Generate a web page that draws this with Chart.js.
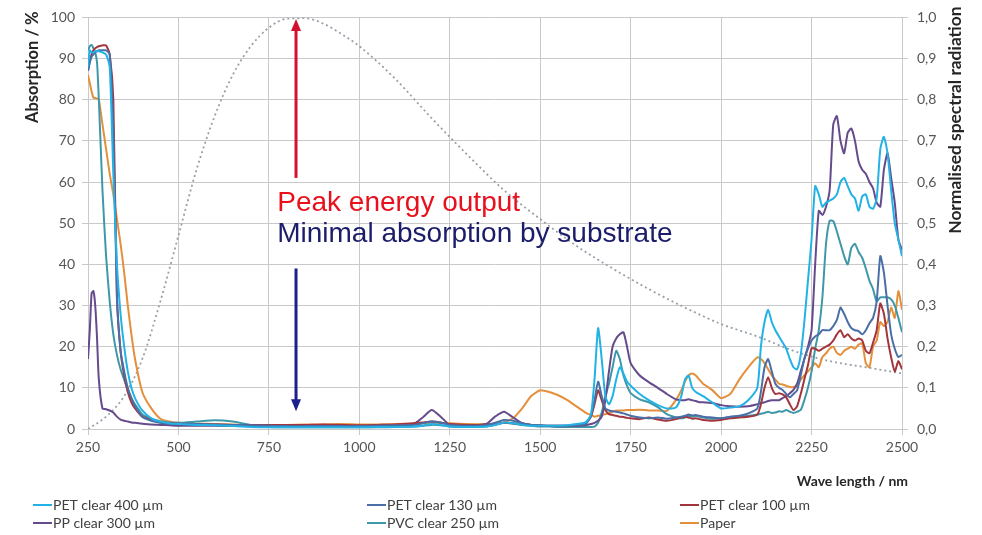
<!DOCTYPE html>
<html>
<head>
<meta charset="utf-8">
<script src="https://cdn.jsdelivr.net/npm/chart.js@4.4.0/dist/chart.umd.min.js"></script>
<style>
  html, body { margin: 0; padding: 0; background: #fff; }
  #wrap { width: 982px; height: 535px; position: relative; }
</style>
</head>
<body>
<div id="wrap"><canvas id="absChart"></canvas></div>
<script>
// shared wavelength grid (nm) for the six spectra, 10 per row
const wavelengths = [
  250, 255, 260, 265, 270, 275, 280, 290, 300, 310,
  320, 330, 340, 350, 360, 370, 380, 400, 425, 450,
  475, 500, 550, 600, 650, 700, 750, 800, 850, 900,
  950, 1000, 1050, 1100, 1150, 1175, 1200, 1225, 1250, 1300,
  1350, 1375, 1400, 1425, 1450, 1475, 1500, 1525, 1550, 1575,
  1600, 1625, 1640, 1650, 1660, 1670, 1680, 1690, 1700, 1710,
  1720, 1730, 1740, 1750, 1775, 1800, 1825, 1850, 1875, 1890,
  1900, 1910, 1920, 1930, 1940, 1950, 1975, 2000, 2025, 2050,
  2075, 2100, 2110, 2120, 2130, 2140, 2150, 2160, 2170, 2180,
  2190, 2200, 2210, 2220, 2230, 2240, 2250, 2260, 2270, 2280,
  2290, 2300, 2310, 2320, 2330, 2340, 2350, 2360, 2370, 2380,
  2390, 2400, 2410, 2420, 2430, 2440, 2450, 2460, 2470, 2480,
  2490, 2500
];

// absorption in %
const pet400 = [
  88, 92, 91.5, 91.5, 91.8, 91.8, 91.8, 91.5, 91, 88,
  62, 40, 28, 20, 14, 10, 7.5, 4.5, 2.6, 1.8,
  1.4, 1.2, 1.0, 0.9, 0.7, 0.5, 0.4, 0.4, 0.4, 0.4,
  0.4, 0.4, 0.5, 0.5, 0.6, 0.8, 1.2, 1.0, 0.6, 0.5,
  0.6, 1.0, 1.6, 1.4, 1.0, 0.8, 0.8, 0.8, 0.8, 0.9,
  1.2, 1.6, 3.5, 12, 24.5, 17, 8, 6, 8, 12,
  15, 13.5, 11.5, 10.5, 8.5, 7, 5.8, 5, 5.2, 8,
  12, 13, 10, 9, 8.5, 8, 6.5, 5, 5.2, 5.5,
  7, 10, 20, 26, 29, 26, 24, 22.5, 21, 19.5,
  17, 15, 14.5, 18, 26, 36, 46, 59, 57, 54,
  55, 55.5, 56, 57, 60, 61, 59, 57, 56, 53,
  56.5, 57, 54, 53.5, 56, 68, 71, 67, 58, 50,
  46, 42
];
const pet130 = [
  87, 89, 90.5, 91, 91.5, 91.8, 92, 92, 92, 91,
  72, 32, 19, 14, 10, 7.5, 5.5, 3, 2, 1.5,
  1.3, 1.2, 1.2, 1.1, 1.0, 0.9, 0.8, 0.7, 0.7, 0.7,
  0.7, 0.7, 0.8, 0.9, 1.0, 1.4, 1.8, 1.6, 1.0, 0.8,
  0.9, 1.5, 2.2, 2.0, 1.4, 1.0, 0.9, 0.8, 0.8, 0.8,
  0.9, 1.2, 3, 7, 11.5, 8, 5, 4.5, 4.3, 4.2,
  4, 3.8, 3.5, 3.2, 2.8, 2.6, 2.8, 2.5, 2.8, 3,
  3.2, 3.5, 3.3, 3.4, 3.2, 3.0, 2.8, 2.6, 3.0, 3.2,
  3.8, 5, 9, 15, 17, 14, 11, 10, 9.5, 8.5,
  7.7, 8.5, 9.4, 13, 17, 19.5, 21.5, 22.5, 23, 24,
  24, 24, 25, 26.5, 29.5, 28, 26, 24.5, 24, 23.8,
  23, 24, 25.7, 27, 31, 42, 38, 30, 23, 19.5,
  17.5, 18
];
const pet100 = [
  87, 89.5, 91, 92, 92.5, 92.8, 93, 93.2, 93.2, 91,
  80, 32, 19, 13, 9, 6.5, 5, 3, 2.2, 1.6,
  1.4, 1.3, 1.2, 1.1, 1.0, 1.0, 1.0, 1.0, 1.0, 1.1,
  1.0, 0.9, 1.0, 1.1, 1.4, 1.6, 1.8, 1.5, 1.2, 1.0,
  1.0, 1.2, 1.5, 1.4, 1.1, 1.0, 0.9, 0.8, 0.8, 0.8,
  1.0, 1.5, 3, 6, 9.4, 7, 4.6, 3.6, 3.4, 3.2,
  3, 2.9, 2.7, 2.6, 2.4, 2.8, 2.3, 2.0, 2.4, 2.8,
  3, 2.8, 2.5, 2.6, 2.4, 2.2, 2.0, 2.2, 2.6, 2.8,
  3, 3.5, 6, 10, 12.6, 10, 8.5, 8.7, 8.4, 7.7,
  6, 4.6, 5.5, 8.5, 12, 15.5, 19.6, 19.5, 19, 19.5,
  20, 20.5, 21.5, 23, 24, 22.3, 23, 22, 21.5, 22,
  21.5, 19, 18.4, 21, 24, 30.5, 28, 22, 17.4, 14,
  16.5, 14.5
];
const pp300 = [
  17, 24, 33, 33.5, 30, 22, 12, 5, 4.8, 4.5,
  4, 3, 2.3, 2.0, 1.8, 1.6, 1.5, 1.3, 1.1, 1.0,
  0.9, 0.8, 0.8, 0.8, 0.7, 0.7, 0.6, 0.6, 0.6, 0.6,
  0.6, 0.6, 0.7, 0.8, 1.2, 2.8, 4.6, 3, 1.0, 0.8,
  1.2, 3, 4.2, 2.8, 1.4, 1.0, 0.8, 0.7, 0.7, 0.7,
  0.8, 0.9, 1.2, 1.5, 2.0, 3, 7, 14, 20, 22,
  23, 23.5, 20, 16, 13, 11.4, 10, 8.5, 7.2, 7,
  7, 7.2, 7, 6.8, 6.5, 6.5, 6.3, 5.8, 5.5, 5.4,
  5.5, 6, 6.3, 6.5, 6.8, 7, 7, 7, 7.5, 8,
  8.7, 9.5, 11, 14, 17, 20, 24, 40, 53, 52,
  54, 58, 74, 76, 70, 67, 72, 73, 70, 65,
  63, 62, 60, 58.5, 55, 54, 63, 67, 61, 55,
  46, 43.5
];
const pvc250 = [
  92, 93, 93.3, 92.5, 91.5, 89, 80, 58, 42, 31,
  23, 18, 14.5, 12, 9.5, 7.5, 6, 3.6, 2.5, 1.9,
  1.6, 1.5, 1.8, 2.1, 1.8, 1.0, 0.5, 0.4, 0.4, 0.4,
  0.4, 0.4, 0.4, 0.5, 0.6, 0.8, 1.0, 0.9, 0.6, 0.5,
  0.6, 1.0, 1.5, 1.3, 1.0, 0.8, 0.6, 0.6, 0.5, 0.5,
  0.5, 0.5, 0.5, 0.6, 1.5, 4, 8, 11, 15, 19,
  17, 13, 10.5, 8.7, 7.2, 6.5, 5.3, 3.6, 2.8, 2.6,
  2.8, 3.2, 3.0, 3.2, 3.0, 2.8, 2.5, 2.6, 2.8, 3.0,
  3.2, 3.5, 3.7, 3.9, 4.2, 3.9, 4.0, 4.3, 4.2, 4.6,
  4.2, 3.9, 4.2, 4.6, 7, 10, 14, 19.5, 24, 32,
  45, 50.6, 50.5, 48, 45, 42, 40, 44, 45, 43,
  41.6, 39, 36, 34, 31, 32, 32, 32, 31.5, 30,
  27, 23.5
];
const paper = [
  86, 84, 82, 80.5, 80.4, 80.3, 80, 74, 68, 62,
  57, 51, 45, 38, 30, 23, 17, 9, 5, 2.5,
  1.8, 1.5, 1.3, 1.2, 1.1, 1.0, 1.0, 1.0, 1.1, 1.1,
  1.2, 1.1, 1.1, 1.2, 1.3, 1.4, 1.5, 1.5, 1.4, 1.2,
  1.2, 1.3, 1.6, 2.6, 5, 8, 9.4, 9, 8.2, 7,
  5.5, 4, 3.4, 3, 3.2, 3.4, 3.6, 3.8, 4.2, 4.5,
  4.5, 4.5, 4.6, 4.6, 4.7, 4.5, 4.5, 4.4, 7, 9.4,
  11.5, 13, 13.5, 13, 12, 11, 9.5, 7.5, 8.5, 12,
  15, 17.4, 17, 16, 14.5, 13, 12, 11, 10.8, 10.5,
  10.2, 10.2, 10.5, 12, 13, 14, 15, 16, 15, 17.5,
  18.4, 19.5, 20, 18.5, 18, 19, 19.5, 20, 19.5, 20.5,
  20.8, 16, 15, 20, 21.5, 26, 25, 26, 29.5, 27,
  33.5, 29
];

// normalised spectral radiation (right axis)
const radWavelengths = [250, 300, 350, 400, 450, 500, 550, 600, 650, 700, 750, 800, 850, 900, 950, 1000,
  1100, 1200, 1300, 1400, 1500, 1600, 1700, 1800, 1900, 2000, 2100, 2200, 2300, 2400, 2500];
const radiation = [0.0, 0.03, 0.08, 0.17, 0.31, 0.47, 0.63, 0.76, 0.86, 0.93, 0.975, 0.997, 0.998, 0.985, 0.96, 0.93,
  0.85, 0.755, 0.665, 0.58, 0.51, 0.445, 0.39, 0.34, 0.295, 0.255, 0.225, 0.19, 0.165, 0.15, 0.135];

const seriesNames = ['PET clear 400 µm', 'PET clear 130 µm', 'PET clear 100 µm', 'PP clear 300 µm', 'PVC clear 250 µm', 'Paper'];
const seriesValues = [pet400, pet130, pet100, pp300, pvc250, paper];
const seriesColors = ['#22b2e6', '#4a6fa6', '#a3353d', '#654a8c', '#3e98aa', '#e48f3c'];

const xTicks = [250, 500, 750, 1000, 1250, 1500, 1750, 2000, 2250, 2500];
const yTicks = [0, 10, 20, 30, 40, 50, 60, 70, 80, 90, 100];
const radTicks = [0, 0.1, 0.2, 0.3, 0.4, 0.5, 0.6, 0.7, 0.8, 0.9, 1.0];

const toPoints = (xs, ys) => xs.map((x, i) => ({ x: x, y: ys[i] }));

const datasets = seriesValues.map((vals, i) => ({
  label: seriesNames[i],
  data: toPoints(wavelengths, vals),
  borderColor: seriesColors[i],
  borderWidth: 2,
  pointRadius: 0,
  tension: 0.2,
  yAxisID: 'y'
}));
datasets.push({
  label: 'radiation',
  data: toPoints(radWavelengths, radiation),
  borderColor: '#98a0aa',
  borderWidth: 1.8,
  borderDash: [2, 3],
  pointRadius: 0,
  cubicInterpolationMode: 'monotone',
  yAxisID: 'y2'
});

const tickFont = { family: 'Lato', size: 14 };
const gridColor = '#c9c9c9';

const drawArrow = (ctx, x, y0, y1, color) => {
  const dir = y1 < y0 ? -1 : 1;
  ctx.strokeStyle = color;
  ctx.fillStyle = color;
  ctx.lineWidth = 3;
  ctx.beginPath();
  ctx.moveTo(x, y0);
  ctx.lineTo(x, y1 - dir * 10);
  ctx.stroke();
  ctx.beginPath();
  ctx.moveTo(x, y1);
  ctx.lineTo(x - 5, y1 - dir * 12);
  ctx.lineTo(x + 5, y1 - dir * 12);
  ctx.closePath();
  ctx.fill();
};

const overlay = {
  id: 'overlay',
  afterDatasetsDraw(chart) {
    const ctx = chart.ctx;
    const xs = chart.scales.x, ys = chart.scales.y;
    const ax = xs.getPixelForValue(825);
    ctx.save();
    drawArrow(ctx, ax, ys.getPixelForValue(61), ys.getPixelForValue(99.6), '#d3112f');
    drawArrow(ctx, ax, ys.getPixelForValue(39), ys.getPixelForValue(4.3), '#1d1f8c');
    ctx.font = '28px "Liberation Sans", Arial, sans-serif';
    ctx.textBaseline = 'middle';
    ctx.textAlign = 'left';
    const tx = xs.getPixelForValue(773);
    ctx.fillStyle = '#e8101c';
    ctx.fillText('Peak energy output', tx, ys.getPixelForValue(54.8));
    ctx.fillStyle = '#1b1d6a';
    ctx.fillText('Minimal absorption by substrate', tx, ys.getPixelForValue(47.2));
    ctx.restore();
  },
  afterDraw(chart) {
    const ctx = chart.ctx;
    const area = chart.chartArea;
    ctx.save();
    ctx.fillStyle = '#262626';
    ctx.textBaseline = 'middle';
    // axis titles, both read bottom to top, top-aligned
    ctx.font = 'bold 16.5px Lato';
    ctx.save();
    ctx.translate(33, area.top - 6);
    ctx.rotate(-Math.PI / 2);
    ctx.textAlign = 'right';
    ctx.fillText('Absorption / %', 0, 0);
    ctx.restore();
    ctx.save();
    ctx.translate(955, area.top - 11);
    ctx.rotate(-Math.PI / 2);
    ctx.textAlign = 'right';
    ctx.font = 'bold 17.4px Lato';
    ctx.fillText('Normalised spectral radiation', 0, 0);
    ctx.restore();
    ctx.font = 'bold 14px Lato';
    ctx.textAlign = 'right';
    ctx.fillText('Wave length / nm', area.right + 6, 481);
    // legend, 3 columns x 2 rows
    const colX = [33, 367, 680];
    const rowY = [505, 523];
    ctx.font = '14px Lato';
    ctx.textAlign = 'left';
    seriesNames.forEach((name, i) => {
      const x = colX[i % 3], y = rowY[Math.floor(i / 3)];
      ctx.strokeStyle = seriesColors[i];
      ctx.lineWidth = 2;
      ctx.beginPath();
      ctx.moveTo(x, y);
      ctx.lineTo(x + 19, y);
      ctx.stroke();
      ctx.fillStyle = '#404040';
      ctx.fillText(name, x + 20, y);
    });
    ctx.restore();
  }
};

new Chart(document.getElementById('absChart'), {
  type: 'line',
  data: { datasets: datasets },
  options: {
    responsive: true,
    maintainAspectRatio: false,
    animation: false,
    layout: { padding: { top: 16, left: 0, right: 0, bottom: 0 } },
    plugins: { legend: { display: false }, tooltip: { enabled: false } },
    scales: {
      x: {
        type: 'linear',
        min: 250, max: 2500,
        afterFit: s => { s.height = 106; },
        afterBuildTicks: s => { s.ticks = xTicks.map(v => ({ value: v })); },
        grid: { color: gridColor, tickLength: 6 },
        border: { color: gridColor },
        ticks: { font: tickFont, color: '#555', padding: 4, maxRotation: 0, callback: v => String(v) }
      },
      y: {
        position: 'left',
        min: 0, max: 100,
        afterFit: s => { s.width = 88; },
        afterBuildTicks: s => { s.ticks = yTicks.map(v => ({ value: v })); },
        grid: { color: gridColor, tickLength: 6 },
        border: { color: gridColor },
        ticks: { font: tickFont, color: '#555', padding: 7 }
      },
      y2: {
        position: 'right',
        min: 0, max: 1,
        afterFit: s => { s.width = 80; },
        afterBuildTicks: s => { s.ticks = radTicks.map(v => ({ value: v })); },
        grid: { drawOnChartArea: false, color: gridColor, tickLength: 6 },
        border: { color: gridColor },
        ticks: { font: tickFont, color: '#555', padding: 9, callback: v => v.toFixed(1).replace('.', ',') }
      }
    }
  },
  plugins: [overlay]
});
</script>
</body>
</html>
